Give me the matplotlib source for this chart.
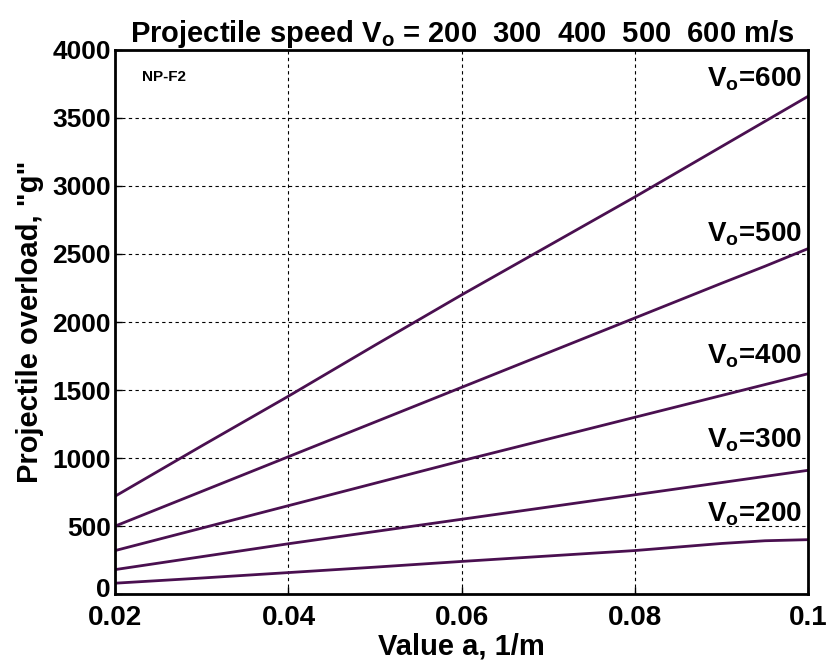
import numpy as np
import matplotlib
matplotlib.use("Agg")
import matplotlib.pyplot as plt
from matplotlib.transforms import ScaledTranslation

plt.rcParams['font.family'] = ['Liberation Sans', 'DejaVu Sans']
plt.rcParams['font.weight'] = 'bold'
plt.rcParams['mathtext.fontset'] = 'custom'
plt.rcParams['mathtext.rm'] = 'Liberation Sans:bold'
plt.rcParams['mathtext.bf'] = 'Liberation Sans:bold'

# DATA
a_vals = [0.02, 0.03, 0.04, 0.05, 0.06, 0.07, 0.08, 0.09, 0.095, 0.1]
speeds = [200, 300, 400, 500, 600]
overload = {
    200: [80, 118, 158, 198, 240, 280, 320, 372, 392, 400],
    300: [180, 275, 370, 460, 550, 640, 730, 820, 865, 910],
    400: [320, 485, 650, 815, 980, 1140, 1300, 1460, 1540, 1620],
    500: [500, 755, 1010, 1265, 1520, 1775, 2030, 2285, 2410, 2540],
    600: [720, 1090, 1455, 1830, 2200, 2560, 2920, 3290, 3475, 3660],
}
label_y = {200: 537, 300: 1080, 400: 1700, 500: 2596, 600: 3735}
x_ticks = [0.02, 0.04, 0.06, 0.08, 0.1]
x_ticklabels = ['0.02', '0.04', '0.06', '0.08', '0.1']
y_ticks = list(range(0, 4001, 500))

LINE_COLOR = '#4a1050'

fig = plt.figure(figsize=(8.29, 6.66), dpi=100)
ax = fig.add_axes([0.139, 0.108, 0.836, 0.817])

# one line per projectile speed, labelled at the right edge
for v in speeds:
    ax.plot(a_vals, overload[v], color=LINE_COLOR, lw=2)
    ax.text(0.0993, label_y[v], r'V$_\mathbf{o}$=%d' % v, ha='right', va='baseline',
            fontsize=20, fontweight='bold')

ax.text(0.0231, 3800, 'NP-F2', fontsize=11, fontweight='bold', va='center')

ax.set_xlim(0.02, 0.1)
ax.set_ylim(0, 4000)
ax.set_xticks(x_ticks)
ax.set_xticklabels(x_ticklabels)
ax.set_yticks(y_ticks)
ax.grid(True, color='black', linestyle=(0, (3, 3)), lw=0.8)
ax.tick_params(direction='in', labelsize=20, length=5, width=1, pad=3)
ax.tick_params(axis='x', pad=8)
ax.tick_params(axis='y', labelsize=19)
for lab in ax.get_xticklabels() + ax.get_yticklabels():
    lab.set_fontweight('bold')
# nudge the "0" label up so it clears "0.02"
zero_lab = ax.get_yticklabels()[0]
zero_lab.set_transform(zero_lab.get_transform() + ScaledTranslation(0, 5 / 72, fig.dpi_scale_trans))
for sp in ax.spines.values():
    sp.set_linewidth(2)

ax.set_xlabel('Value a, 1/m', fontsize=21, fontweight='bold', labelpad=1)
ax.set_ylabel('Projectile overload, "g"', fontsize=21, fontweight='bold', labelpad=6)
ax.set_title(r'Projectile speed V$_\mathbf{o}$ = 200  300  400  500  600 m/s',
             fontsize=21, fontweight='bold', pad=6)

fig.savefig('out.png', dpi=100)
